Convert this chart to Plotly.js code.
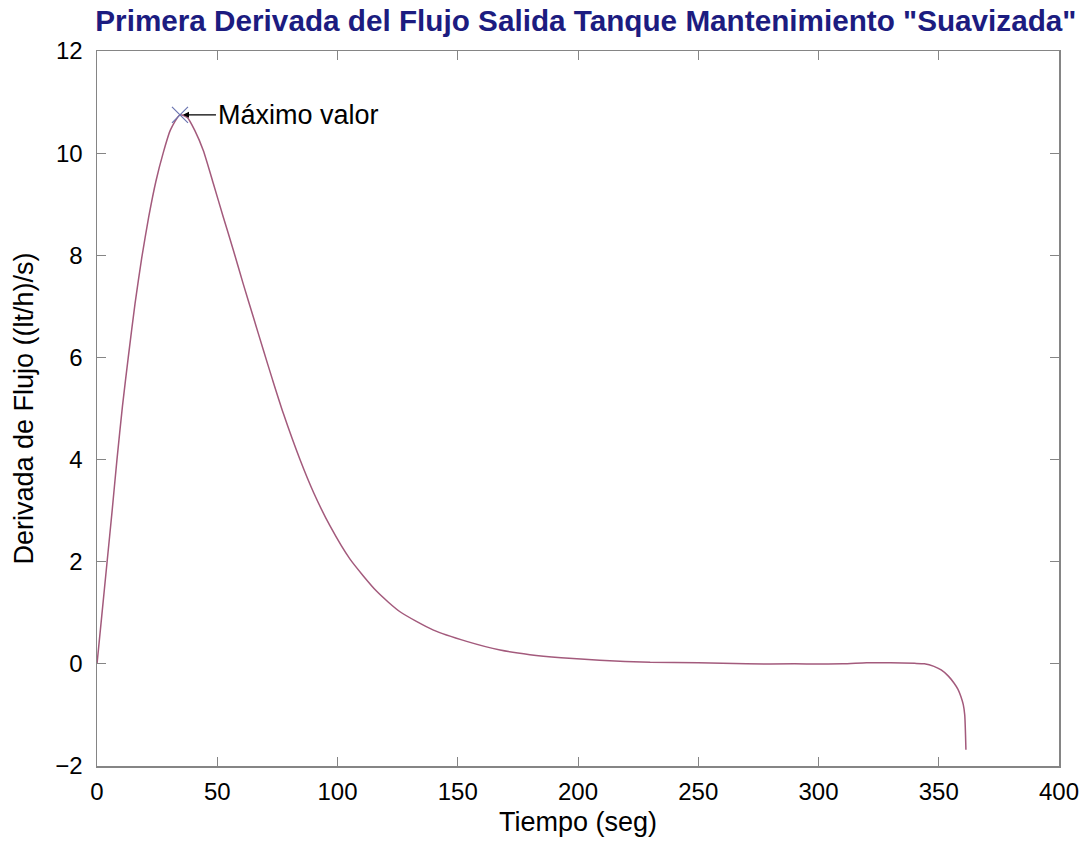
<!DOCTYPE html>
<html>
<head>
<meta charset="utf-8">
<script src="https://cdn.plot.ly/plotly-3.0.1.min.js"></script>
<style>html,body{margin:0;padding:0;background:#fff;}#chart{width:1089px;height:845px;}</style>
</head>
<body>
<div id="chart"></div>
<script>
const tiempo = [0, 2.0, 4.2, 6.3, 8.3, 10.6, 13.0, 15.8, 18.6, 21.5, 24.5, 27.5, 30.5, 34.5, 37.5, 40.7, 44.2, 48.4, 52.5, 56.7, 60.8, 65.0, 69.2, 73.0, 77.5, 84.4, 90.0, 96.9, 105.2, 116.3, 126.0, 139.9, 153.7, 167.6, 180, 193, 209, 230, 250, 270, 290, 310, 320, 330, 340, 344, 348, 351, 354, 356.4, 358, 359.2, 360.2, 360.8, 361.3];
const derivada = [0, 0.95, 2.0, 3.0, 4.0, 5.05, 6.0, 7.05, 7.95, 8.75, 9.45, 10.0, 10.45, 10.75, 10.7, 10.44, 10.05, 9.40, 8.75, 8.10, 7.44, 6.79, 6.14, 5.56, 4.90, 4.0, 3.36, 2.70, 2.05, 1.42, 1.02, 0.66, 0.44, 0.27, 0.18, 0.12, 0.07, 0.03, 0.02, 0.0, 0.0, 0.0, 0.02, 0.02, 0.01, 0.0, -0.05, -0.12, -0.24, -0.38, -0.5, -0.64, -0.8, -1.0, -1.68];
const maxT = [34.5];
const maxV = [10.75];
const xTicks = [0, 50, 100, 150, 200, 250, 300, 350, 400];
const yTicks = [-2, 0, 2, 4, 6, 8, 10, 12];
const titulo = 'Primera Derivada del Flujo Salida Tanque Mantenimiento "Suavizada"';
const etiqueta = 'Máximo valor';

const font = 'Liberation Sans, Arial, sans-serif';
const axisCommon = {
  showgrid: false, zeroline: false, showline: true, mirror: 'ticks',
  linecolor: '#858585', linewidth: 1.5,
  ticks: 'inside', ticklen: 9, tickcolor: '#858585', tickwidth: 1,
  tickfont: {family: font, size: 24, color: '#000'}
};

const traces = [
  {x: tiempo, y: derivada, mode: 'lines', line: {color: '#a35a7c', width: 1.5, shape: 'spline', smoothing: 0.6}, hoverinfo: 'skip'},
  {x: maxT, y: maxV, mode: 'markers', marker: {symbol: 'x-thin-open', size: 16, color: '#6a74b0', line: {color: '#6a74b0', width: 1.2}}}
];

const layout = {
  width: 1089, height: 845,
  margin: {l: 97, r: 30, t: 51, b: 79},
  paper_bgcolor: '#fff', plot_bgcolor: '#fff',
  showlegend: false,
  title: {text: '<b>' + titulo + '</b>', font: {family: font, size: 29.7, color: '#1c1c80'}, x: 0.538, xanchor: 'center', y: 0.976, yanchor: 'middle'},
  xaxis: Object.assign({}, axisCommon, {range: [0, 400], tickvals: xTicks, ticklabelstandoff: 4,
    title: {text: 'Tiempo (seg)', font: {family: font, size: 27, color: '#000'}, standoff: 8}}),
  yaxis: Object.assign({}, axisCommon, {range: [-2, 12], tickvals: yTicks, ticklabelstandoff: 8,
    title: {text: 'Derivada de Flujo ((lt/h)/s)', font: {family: font, size: 27, color: '#000'}, standoff: 14}}),
  annotations: [{
    x: maxT[0], y: maxV[0], xref: 'x', yref: 'y', text: etiqueta,
    showarrow: true, arrowhead: 2, arrowsize: 1, arrowwidth: 1.2, arrowcolor: '#000',
    ax: 36, ay: 0, xanchor: 'left', standoff: 3,
    font: {family: font, size: 27, color: '#000'}
  }]
};

Plotly.newPlot('chart', traces, layout, {displayModeBar: false, staticPlot: true});
</script>
</body>
</html>
